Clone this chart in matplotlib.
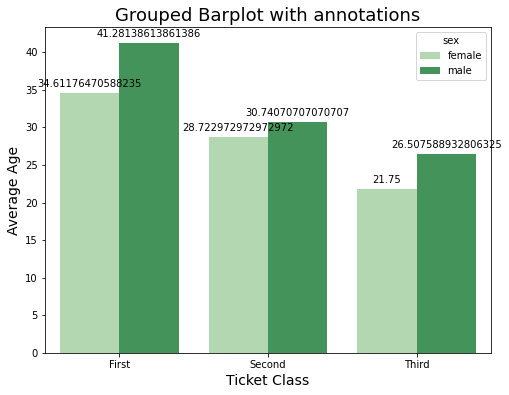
import numpy as np
import matplotlib
matplotlib.use('Agg')
import matplotlib.pyplot as plt

classes = ['First', 'Second', 'Third']
sexes = ['female', 'male']
female_age = [34.61176470588235, 28.722972972972972, 21.75]
male_age = [41.28138613861386, 30.74070707070707, 26.507588932806325]
colors = ['#b3d7b1', '#43935a']

fig = plt.figure(figsize=(509/72, 395/72), dpi=72)
ax = fig.add_axes([45/509, 1-353/395, 446/509, 326/395])

x = np.arange(len(classes))
w = 0.4
for i, (vals, lab) in enumerate(zip([female_age, male_age], sexes)):
    bars = ax.bar(x + (i - 0.5) * w, vals, w, color=colors[i], label=lab)
    for b in bars:
        h = b.get_height()
        ax.annotate(format(h), (b.get_x() + b.get_width() / 2, h),
                    ha='center', va='center', xytext=(0, 9),
                    textcoords='offset points', fontsize=10)

ax.set_xticks(x)
ax.set_xticklabels(classes)
ax.set_xlim(-0.5, 2.5)
ax.set_xlabel('Ticket Class', fontsize=14)
ax.set_ylabel('Average Age', fontsize=14)
ax.set_title('Grouped Barplot with annotations', fontsize=18)
ax.legend(title='sex', loc='upper right')

fig.savefig('out.png', dpi=72)
